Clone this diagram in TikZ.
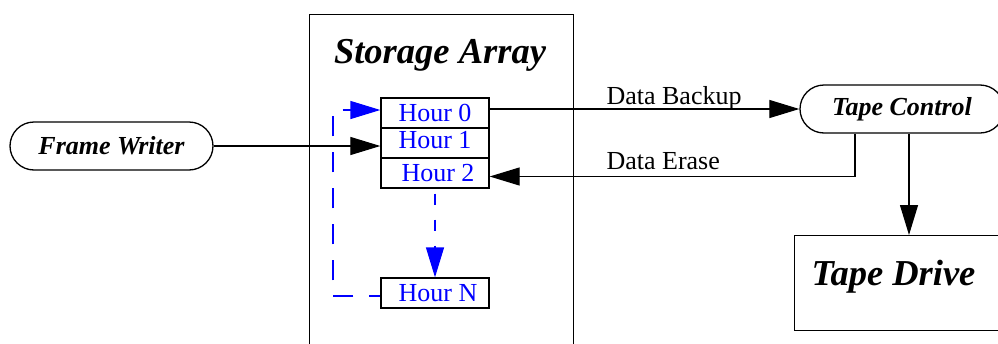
\documentclass[tikz,border=0pt]{standalone}
\usepackage{fontspec}
\setmainfont{Liberation Serif}
\usetikzlibrary{arrows.meta,calc}

\tikzset{
  smallfont/.style={font=\fontsize{26}{30}\selectfont},
  bigfont/.style={font=\fontsize{36.5}{40}\selectfont\bfseries\itshape},
  boxline/.style={draw=black, line width=1.3pt},
  pill/.style={boxline, rounded corners=24pt, minimum height=48pt, inner sep=0pt,
    font=\fontsize{26}{30}\selectfont\bfseries\itshape},
  hourbox/.style={boxline, minimum width=108pt, minimum height=30pt, inner sep=0pt,
    text height=17pt, text depth=0pt, text=blue, smallfont},
  conn/.style={draw=black, line width=1.2pt, -{Triangle[length=30pt,width=18pt]}},
  bluedash/.style={draw=blue, line width=1.3pt, -{Triangle[length=30pt,width=18pt]}},
}

\begin{document}
\begin{tikzpicture}[x=1pt, y=-1pt]
  \useasboundingbox (0,0) rectangle (998,343);

  % storage array frame
  \node[boxline, minimum width=264pt, minimum height=330pt, inner sep=0pt, anchor=north west]
    (array) at (309,14) {};
  \node[bigfont, anchor=base] (arraytitle) at (440,63) {Storage Array};

  % hourly slots
  \node[hourbox] (h0) at (435,113) {Hour 0};
  \node[hourbox, text depth=7pt] (h1) at (435,143) {Hour 1};
  \node[hourbox] (h2) at (435,173) {\hspace*{6pt}Hour 2};
  \node[hourbox] (hN) at (435,293) {\hspace*{6pt}Hour N};

  % writer and tape side
  \node[pill, minimum width=203pt] (fw) at (111.5,146) {Frame Writer};
  \node[pill, minimum width=204pt] (tc) at (902,109) {Tape Control};
  \node[boxline, minimum width=220pt, minimum height=95pt, inner sep=0pt, anchor=north west]
    (td) at (794,235) {};
  \node[bigfont, anchor=base west] (tdtext) at (808,285) {Tape Drive};

  % data flow
  \coordinate (h0in) at ([yshift=3pt]h0.west);
  \coordinate (loopx) at (333,0);
  \draw[conn] (fw.east) -- (fw.east -| h1.west);
  \draw[conn] (h0.east |- tc.west) -- (tc.west);
  \node[smallfont, anchor=base west] (backup) at (603,104) {Data Backup};
  \draw[conn] ([xshift=-47pt]tc.south) |- ([yshift=-3.5pt]h2.east);
  \node[smallfont, anchor=base west] (erase) at (603,169) {Data Erase};
  \draw[conn] ([xshift=7pt]tc.south) -- ([xshift=7pt]tc.south |- td.north);

  % rotation of the hourly slots
  \draw[bluedash, dash pattern=on 11pt off 15pt, dash phase=21pt] (h2.south) -- (hN.north);
  \draw[bluedash, dash pattern=on 20pt off 16pt, dash phase=9pt]
    ([yshift=-3pt]hN.west) -| (loopx |- h0in) -- (h0in);
\end{tikzpicture}
\end{document}
